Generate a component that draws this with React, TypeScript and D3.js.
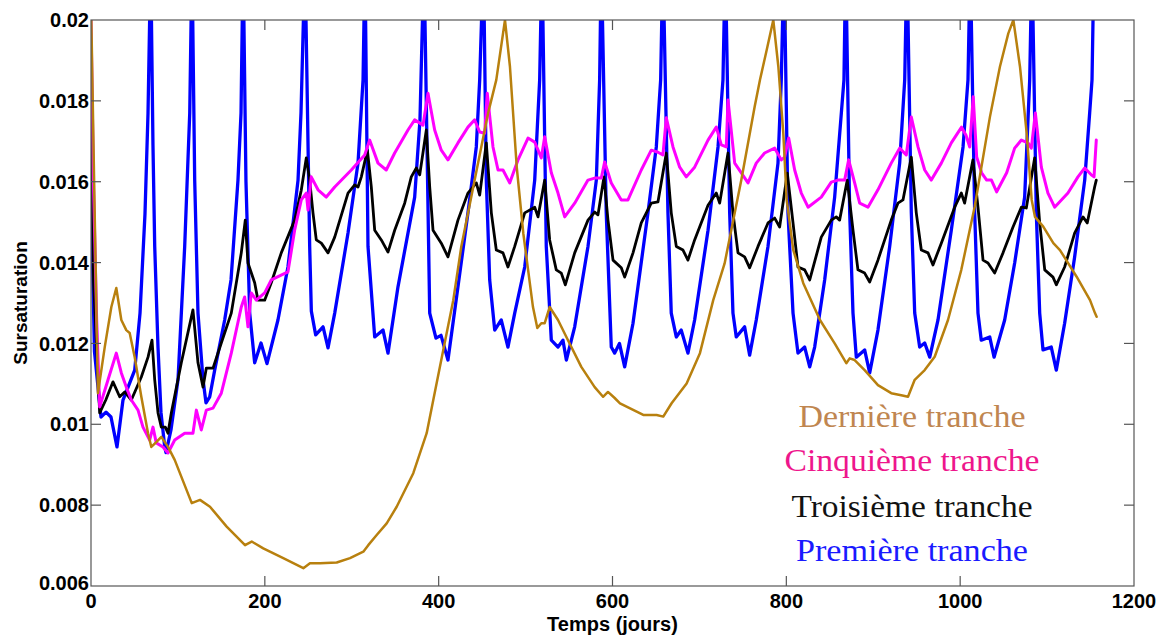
import React from "react";
import * as d3 from "d3";

const W = 1163;
const H = 637;

const xTicks = [0, 200, 400, 600, 800, 1000, 1200];
const xTickLabels = ["0", "200", "400", "600", "800", "1000", "1200"];
const yTicks = [0.006, 0.008, 0.01, 0.012, 0.014, 0.016, 0.018, 0.02];
const yTickLabels = ["0.006", "0.008", "0.01", "0.012", "0.014", "0.016", "0.018", "0.02"];

// Première tranche (blue)
const premiere: [number, number][] = [
  [0, 0.0158], [4, 0.0118], [11.5, 0.01018], [17.3, 0.0103], [23, 0.01018], [29.9, 0.00944],
  [36.8, 0.0106], [50.3, 0.01134], [56.4, 0.01275], [62.1, 0.0152], [65.6, 0.0177], [68.7, 0.0215],
  [71.3, 0.0169], [73.3, 0.0144], [77.1, 0.0119], [80.5, 0.0103], [84.8, 0.00944], [86.3, 0.0093],
  [92, 0.00986], [100.1, 0.0111], [107.8, 0.0144], [113.6, 0.0177], [116.2, 0.0215], [119.3, 0.01604],
  [123.1, 0.01275], [128.9, 0.0111], [132.3, 0.01053], [136.6, 0.01068], [142.3, 0.01134], [153.8, 0.01258],
  [161.1, 0.01357], [169.1, 0.01604], [172.6, 0.0177], [175, 0.0215], [178.3, 0.016], [182.6, 0.01275],
  [188.3, 0.01152], [195.6, 0.01201], [202.5, 0.0115], [215.1, 0.01258], [226.6, 0.01389], [238.2, 0.01604],
  [241.6, 0.0177], [246.2, 0.0215], [248.5, 0.0185], [251.6, 0.0144], [253.5, 0.0128], [258.5, 0.01221],
  [267, 0.01241], [272.7, 0.01189], [280.4, 0.01275], [295.7, 0.01473], [307.2, 0.01646], [313, 0.01852],
  [315.2, 0.0215], [318.7, 0.0144], [326.4, 0.01216], [336, 0.01233], [341.7, 0.01176], [353.2, 0.0134],
  [372.4, 0.01562], [378.5, 0.01753], [383.1, 0.0215], [389.7, 0.01275], [396.9, 0.01213], [402.7, 0.0122],
  [410.7, 0.01159], [422.2, 0.0134], [433.7, 0.01523], [443.3, 0.01686], [447.2, 0.01852], [451.5, 0.0215],
  [454.8, 0.01604], [458.7, 0.01357], [464.5, 0.01233], [472, 0.01258], [479.7, 0.01191], [487.5, 0.01275],
  [499, 0.01389], [510.5, 0.01604], [516.2, 0.01852], [518.9, 0.0215], [523.8, 0.0144], [529.6, 0.01208],
  [537.3, 0.01191], [543, 0.01208], [546.9, 0.01159], [556.5, 0.01241], [571.8, 0.0144], [581.4, 0.01604],
  [585.2, 0.01852], [587.1, 0.0215], [592.8, 0.01523], [598.6, 0.01191], [602.5, 0.01176], [608, 0.012],
  [614, 0.01142], [623.6, 0.0125], [629.3, 0.0134], [640.8, 0.01523], [650.4, 0.01686], [655.4, 0.01852],
  [658, 0.0215], [663.8, 0.01523], [667.6, 0.01275], [673.4, 0.01216], [679.1, 0.01233], [686.8, 0.01176],
  [694.5, 0.01258], [709.9, 0.0148], [721.4, 0.01686], [727.1, 0.01852], [729.8, 0.0215], [734.8, 0.01523],
  [738.6, 0.01275], [742.4, 0.01216], [752, 0.01241], [757.8, 0.01171], [765.4, 0.01258], [778.9, 0.0144],
  [790.4, 0.01646], [794.2, 0.01852], [797.3, 0.0215], [801.9, 0.01523], [807.7, 0.01275], [813.4, 0.01176],
  [821.1, 0.01191], [826.9, 0.01142], [832.6, 0.01191], [844.1, 0.01357], [855.6, 0.01562], [863.3, 0.0177],
  [866.3, 0.01852], [868.3, 0.0215], [872.9, 0.01523], [876.7, 0.01275], [880.5, 0.01166], [890.1, 0.01184],
  [895.9, 0.01127], [905.4, 0.01233], [918.9, 0.0144], [930.4, 0.01646], [936.2, 0.01852], [938.8, 0.0215],
  [943.8, 0.01523], [947.7, 0.01275], [953.4, 0.01191], [959.2, 0.01201], [965, 0.01166], [974.5, 0.01258],
  [989.8, 0.0148], [1003.3, 0.01686], [1009, 0.01852], [1011.6, 0.0215], [1016.7, 0.01523], [1020.5, 0.01275],
  [1024.3, 0.01208], [1034, 0.01216], [1039, 0.01166], [1051.2, 0.01258], [1062.7, 0.01399], [1074.2, 0.01562],
  [1080, 0.01852], [1082.6, 0.0215], [1087.6, 0.01523], [1091.5, 0.01275], [1095.3, 0.01184], [1104.8, 0.01191],
  [1110.6, 0.01134], [1120.2, 0.0125], [1131.7, 0.01414], [1143.3, 0.01604], [1149, 0.0177], [1151.7, 0.01852],
  [1154, 0.0215], [1157, 0.0205],
];

// Troisième tranche (black)
const troisieme: [number, number][] = [
  [0, 0.0178], [3, 0.0135], [10, 0.01028], [17, 0.0106], [25.3, 0.01105], [33, 0.01068], [38.8, 0.0108],
  [46.4, 0.0106], [57.9, 0.01117], [65.6, 0.01166], [70.2, 0.01208], [73.3, 0.0111], [77.1, 0.01028],
  [80.9, 0.00993], [85.5, 0.00993], [88.6, 0.00978], [92.4, 0.01028], [103.9, 0.01152], [117.3, 0.01283],
  [123.1, 0.01152], [128.9, 0.01092], [132.7, 0.01139], [140.4, 0.01139], [149.9, 0.01201], [161.4, 0.01275],
  [172.9, 0.01424], [177.5, 0.01505], [180.6, 0.01399], [188.3, 0.0135], [192.1, 0.01307], [199.8, 0.01307],
  [207.4, 0.0135], [218.9, 0.01424], [234.3, 0.01505], [241.9, 0.01579], [247.7, 0.01659], [251.6, 0.01604],
  [255.4, 0.01523], [259.2, 0.01456], [265, 0.01448], [272.7, 0.01424], [280.4, 0.01463], [295.7, 0.01572],
  [303.4, 0.01592], [307.2, 0.01587], [311, 0.01612], [318, 0.01678], [322.5, 0.01587], [326.4, 0.0148],
  [334, 0.01456], [341.7, 0.01426], [349.4, 0.0148], [360.9, 0.01547], [368.5, 0.01612], [374.3, 0.01634],
  [378.2, 0.01617], [385.8, 0.01728], [389.7, 0.01587], [393.5, 0.0148], [403, 0.01448], [410.7, 0.01414],
  [422.2, 0.01505], [433.7, 0.01572], [443.3, 0.01597], [447.2, 0.01567], [454.8, 0.01696], [460.6, 0.01523],
  [466.3, 0.01431], [474, 0.01424], [479.7, 0.01389], [487.5, 0.0144], [499, 0.01523], [510.5, 0.01537],
  [514.3, 0.01513], [522, 0.01604], [527.7, 0.01456], [535.3, 0.01382], [541.1, 0.01374], [545.7, 0.01345],
  [556.5, 0.01424], [571.8, 0.01505], [579.5, 0.01525], [583.3, 0.01518], [590.2, 0.01612], [594.8, 0.01505],
  [600.6, 0.01406], [610.1, 0.01387], [614, 0.01364], [623.6, 0.01424], [633.1, 0.01498], [644.6, 0.01547],
  [652.3, 0.0155], [661.9, 0.01671], [667.6, 0.01523], [673.4, 0.0144], [681.1, 0.01431], [686.8, 0.01406],
  [694.5, 0.01456], [709.9, 0.01542], [719.4, 0.01572], [723.3, 0.01547], [732.9, 0.01671], [738.6, 0.01523],
  [744.4, 0.01424], [752, 0.01414], [757.8, 0.01387], [767.4, 0.0144], [778.9, 0.01498], [786.6, 0.0151],
  [792.3, 0.01488], [801.1, 0.01621], [807.7, 0.01498], [813.4, 0.01389], [821.1, 0.01382], [826.9, 0.01357],
  [840.2, 0.01463], [851.7, 0.01505], [857.4, 0.01513], [861.3, 0.01505], [870.1, 0.01604], [876.7, 0.0148],
  [882.4, 0.01382], [890.1, 0.01374], [895.9, 0.01352], [905.4, 0.01406], [920.7, 0.01505], [928.4, 0.01547],
  [934.2, 0.01555], [943.8, 0.01661], [949.5, 0.01523], [955.3, 0.01431], [963, 0.01424], [968.7, 0.01394],
  [978.3, 0.01448], [993.7, 0.01537], [1001.3, 0.01572], [1005.1, 0.01547], [1014.7, 0.01654], [1020.5, 0.01537],
  [1026.3, 0.01406], [1032, 0.01399], [1039.7, 0.01374], [1049.3, 0.01424], [1060.8, 0.01488], [1070.4, 0.01537],
  [1076.1, 0.01535], [1085.7, 0.01659], [1091.5, 0.01498], [1097.3, 0.01382], [1106.8, 0.01364], [1110.6, 0.01345],
  [1120.2, 0.01389], [1131.7, 0.01473], [1141.3, 0.01513], [1146.2, 0.01498], [1154.7, 0.01587], [1156.6, 0.01604],
];

// Cinquième tranche (magenta)
const cinquieme: [number, number][] = [
  [0, 0.02], [3, 0.0158], [6.5, 0.0126], [10, 0.01043], [19.6, 0.0111], [29.1, 0.01176], [34.9, 0.01127],
  [40.6, 0.01092], [46.4, 0.0106], [54.1, 0.01035], [59.8, 0.00993], [67.5, 0.00961], [71.3, 0.00993],
  [75.1, 0.00954], [82.8, 0.00944], [88.6, 0.00929], [96.3, 0.00961], [107.8, 0.00978], [117.3, 0.00978],
  [121.2, 0.01035], [126.9, 0.00986], [132.7, 0.01035], [140.4, 0.0104], [149.9, 0.01077], [161.4, 0.01176],
  [172.9, 0.0129], [176.8, 0.01315], [180.6, 0.01241], [184.4, 0.01325], [190.2, 0.01307], [199.8, 0.01325],
  [207.4, 0.01357], [226.6, 0.01377], [234.3, 0.0148], [241.9, 0.01555], [247.7, 0.01572], [249.7, 0.0153],
  [253.4, 0.01612], [261.2, 0.0158], [270.7, 0.01562], [280.4, 0.01587], [299.5, 0.01629], [314.9, 0.01666],
  [320.6, 0.01703], [330.2, 0.01646], [339.7, 0.01629], [349.4, 0.01671], [364.7, 0.01728], [372.4, 0.01753],
  [382, 0.0174], [387.7, 0.01819], [395.4, 0.01728], [403, 0.01678], [410.7, 0.01654], [422.2, 0.01696],
  [433.7, 0.01735], [441.4, 0.01753], [447.2, 0.01723], [452.9, 0.0172], [455.9, 0.01819], [462.5, 0.01686],
  [468.3, 0.01629], [474, 0.01629], [481.7, 0.01597], [491.3, 0.01654], [502.8, 0.01708], [510.5, 0.01698],
  [518.1, 0.01659], [522, 0.01711], [529.6, 0.01622], [537.3, 0.01572], [545, 0.01513], [556.5, 0.01547],
  [571.8, 0.01604], [579.5, 0.01609], [587.1, 0.01609], [591, 0.01649], [598.6, 0.01597], [610.1, 0.01555],
  [617.8, 0.01555], [633.1, 0.01629], [644.6, 0.01678], [652.3, 0.01673], [658, 0.01666], [661.9, 0.01758],
  [669.6, 0.01686], [677.3, 0.01636], [684.9, 0.01612], [694.5, 0.01636], [709.9, 0.01703], [719.4, 0.01735],
  [725.2, 0.01691], [730.9, 0.01686], [732.9, 0.01802], [740.6, 0.01646], [748.2, 0.01622], [755.9, 0.01597],
  [765.4, 0.01646], [775, 0.01671], [786.6, 0.01683], [794.2, 0.01654], [798.1, 0.01661], [802.7, 0.01708],
  [809.6, 0.01629], [817.2, 0.01572], [825, 0.01537], [840.2, 0.01562], [851.7, 0.01599], [859.4, 0.01604],
  [867.1, 0.01604], [871.7, 0.01654], [878.6, 0.01597], [884.4, 0.01547], [893.9, 0.01537], [905.4, 0.0158],
  [920.7, 0.01646], [930.4, 0.01683], [938, 0.01666], [943.8, 0.0176], [951.5, 0.01686], [959.2, 0.01629],
  [966.8, 0.01604], [978.3, 0.01646], [989.8, 0.01696], [1001.6, 0.01735], [1006.7, 0.01715], [1011, 0.01686],
  [1015, 0.0181], [1019, 0.01661], [1024.7, 0.01622], [1030.5, 0.01604], [1036, 0.01604], [1042, 0.01575],
  [1053.5, 0.01622], [1062.7, 0.01683], [1070.4, 0.01703], [1078, 0.01696], [1081.9, 0.01683], [1086.5, 0.0177],
  [1093.4, 0.01636], [1101, 0.01572], [1108.7, 0.01537], [1124, 0.01572], [1135.5, 0.01612], [1143.3, 0.01634],
  [1150.8, 0.01617], [1154, 0.01612], [1156.6, 0.01703],
];

// Dernière tranche (brown)
const derniere: [number, number][] = [
  [0, 0.0205], [4, 0.0155], [8, 0.01077], [15.8, 0.01191], [23.4, 0.0129], [29.1, 0.01337], [34.9, 0.01258],
  [40.6, 0.01233], [44.5, 0.01226], [50.3, 0.01166], [57.9, 0.01068], [65.6, 0.00978], [69.4, 0.00944],
  [75.1, 0.00956], [80.9, 0.00969], [88.6, 0.00944], [96.3, 0.00912], [115.9, 0.00805], [125.4, 0.00813],
  [136.9, 0.00796], [156.1, 0.00747], [177.2, 0.00701], [184.9, 0.0071], [198.2, 0.00693], [221.2, 0.00669],
  [244.3, 0.00644], [251.9, 0.00656], [263.5, 0.00656], [282.7, 0.00658], [298, 0.00669], [313.3, 0.00685],
  [319, 0.00701], [328.7, 0.00726], [340.2, 0.00755], [351.7, 0.00796], [370.8, 0.00879], [386.2, 0.00978],
  [393.8, 0.0106], [405.3, 0.01184], [416.8, 0.01307], [426, 0.01439], [441.4, 0.01604], [456.8, 0.01769],
  [466.3, 0.01852], [476.3, 0.02], [482, 0.01885], [489.8, 0.01637], [497.4, 0.01472], [503, 0.0138],
  [508.5, 0.0129], [513.5, 0.01238], [518.1, 0.0125], [522, 0.0125], [527.7, 0.0129], [537.3, 0.01258],
  [548.8, 0.01208], [564.1, 0.01142], [579.5, 0.01092], [589.1, 0.01068], [594.8, 0.0108], [602.5, 0.01065],
  [608.6, 0.01052], [635.4, 0.01023], [650.8, 0.01023], [658.4, 0.01019], [668, 0.01052], [685.3, 0.01101],
  [700.6, 0.01176], [715.9, 0.01307], [729, 0.01398], [748.2, 0.01604], [763.6, 0.01786], [769.7, 0.01852],
  [777.4, 0.01926], [785, 0.02], [790.8, 0.01885], [796.5, 0.0172], [800.4, 0.01555], [808, 0.01431],
  [819.5, 0.01349], [838.7, 0.01258], [855.6, 0.012], [869, 0.01151], [872.9, 0.01163], [878.6, 0.01159],
  [890.1, 0.01134], [905.4, 0.01097], [920.7, 0.01077], [932.2, 0.01072], [940, 0.01068], [947.7, 0.0111],
  [959.2, 0.01134], [970.7, 0.01167], [986, 0.01258], [1001.3, 0.01382], [1016.7, 0.01538], [1034.3, 0.01761],
  [1045.8, 0.01885], [1055.4, 0.01967], [1061.2, 0.02], [1068.8, 0.01885], [1076.5, 0.0172], [1082.3, 0.01555],
  [1086.1, 0.01513], [1095.6, 0.01489], [1107.2, 0.01448], [1114.8, 0.01431], [1134, 0.01365], [1149.4, 0.01307],
  [1155.1, 0.01275], [1157, 0.01266],
];

const seriesNames = ["Première tranche", "Troisième tranche", "Cinquième tranche", "Dernière tranche"];

export default function App() {
  const left = 91, right = 1134, top = 20, bottom = 586;
  const x = d3.scaleLinear().domain([0, 1200]).range([left, right]);
  const y = d3.scaleLinear().domain([0.006, 0.02]).range([bottom, top]);
  const line = d3.line<[number, number]>().x((d) => x(d[0])).y((d) => y(d[1])).curve(d3.curveLinear);

  const series = [
    { name: seriesNames[0], data: premiere, color: "#0000FF", w: 3.3 },
    { name: seriesNames[1], data: troisieme, color: "#000000", w: 2.8 },
    { name: seriesNames[2], data: cinquieme, color: "#FF00FF", w: 3 },
    { name: seriesNames[3], data: derniere, color: "#B8800E", w: 2.5 },
  ];

  const legend = [
    { text: seriesNames[3], color: "#C08650", y: 427, len: 227 },
    { text: seriesNames[2], color: "#EE168C", y: 471, len: 255 },
    { text: seriesNames[1], color: "#111111", y: 517, len: 241 },
    { text: seriesNames[0], color: "#1A1AFF", y: 561, len: 232 },
  ];

  const axisColor = "#555";
  const tickFont = "'Liberation Sans', Arial, sans-serif";

  return (
    <svg width={W} height={H} style={{ position: "absolute", left: 0, top: 0, background: "#fff" }}>
      <defs>
        <clipPath id="plotclip">
          <rect x={left} y={top} width={right - left} height={bottom - top} />
        </clipPath>
      </defs>
      <rect x={0} y={0} width={W} height={H} fill="#fff" />
      <g clipPath="url(#plotclip)">
        {series.map((s) => (
          <path key={s.name} d={line(s.data) || ""} fill="none" stroke={s.color} strokeWidth={s.w} strokeLinejoin="round" strokeLinecap="round" />
        ))}
      </g>
      <rect x={left} y={top} width={right - left} height={bottom - top} fill="none" stroke={axisColor} strokeWidth={1.2} />
      {xTicks.map((t, i) => (
        <g key={"xt" + t}>
          {i > 0 && i < xTicks.length - 1 && (
            <>
              <line x1={x(t)} x2={x(t)} y1={bottom} y2={bottom - 10} stroke={axisColor} strokeWidth={1.2} />
              <line x1={x(t)} x2={x(t)} y1={top} y2={top + 10} stroke={axisColor} strokeWidth={1.2} />
            </>
          )}
          <text x={x(t)} y={bottom + 22} textAnchor="middle" fontFamily={tickFont} fontWeight="bold" fontSize={20} fill="#000">
            {xTickLabels[i]}
          </text>
        </g>
      ))}
      {yTicks.map((t, i) => (
        <g key={"yt" + t}>
          {i > 0 && i < yTicks.length - 1 && (
            <>
              <line x1={left} x2={left + 10} y1={y(t)} y2={y(t)} stroke={axisColor} strokeWidth={1.2} />
              <line x1={right} x2={right - 10} y1={y(t)} y2={y(t)} stroke={axisColor} strokeWidth={1.2} />
            </>
          )}
          <text x={left - 2} y={y(t) - (i === 0 ? 3 : 0)} dy="0.36em" textAnchor="end" fontFamily={tickFont} fontWeight="bold" fontSize={20} fill="#000">
            {yTickLabels[i]}
          </text>
        </g>
      ))}
      <text x={(left + right) / 2} y={631} textAnchor="middle" fontFamily={tickFont} fontWeight="bold" fontSize={20} fill="#000">
        Temps (jours)
      </text>
      <text transform={`translate(27, ${(top + bottom) / 2}) rotate(-90)`} textAnchor="middle" fontFamily={tickFont} fontWeight="bold" fontSize={19} fill="#000">
        Sursaturation
      </text>
      {legend.map((l) => (
        <text key={l.text} x={912} y={l.y} textAnchor="middle" fontFamily="'Liberation Serif', 'DejaVu Serif', serif" fontSize={31} fill={l.color} textLength={l.len} lengthAdjust="spacingAndGlyphs">
          {l.text}
        </text>
      ))}
    </svg>
  );
}
